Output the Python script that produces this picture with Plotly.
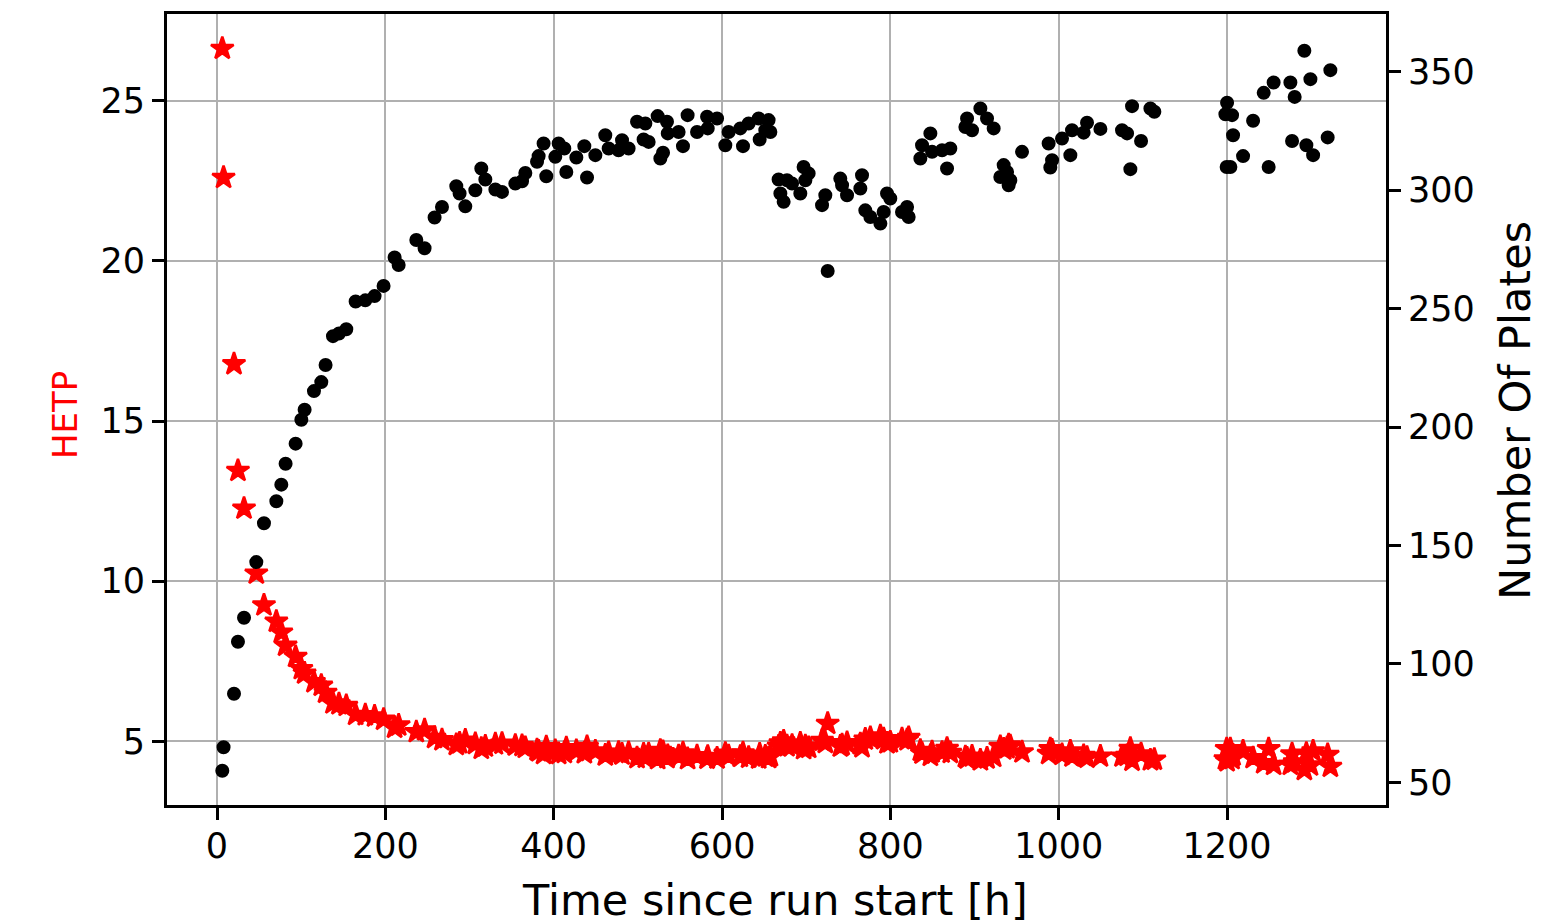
import plotly.graph_objects as go

# Time since run start [h]
time_h = [6.3, 7.8, 20.2, 24.9, 32.1, 46.7, 55.8, 70.5, 76.4, 81.5, 93.4, 100.2, 104.1, 115.2, 123.9,
          129.0, 137.8, 144.9, 153.6, 164.7, 176.2, 187.2, 197.9, 211.0, 215.8, 236.8, 246.6, 258.5,
          267.3, 284.3, 288.2, 295.0, 306.9, 314.0, 318.8, 330.7, 338.6, 354.4, 362.4, 366.3, 380.2,
          382.1, 388.0, 391.2, 401.9, 405.9, 412.6, 415.0, 426.9, 436.4, 439.6, 449.5, 461.3, 465.3,
          477.1, 481.2, 489.0, 499.0, 506.8, 508.9, 512.8, 523.5, 526.7, 529.9, 534.6, 535.5, 548.4,
          553.6, 559.1, 570.3, 582.2, 583.0, 594.1, 603.9, 607.8, 621.7, 624.9, 631.6, 643.5, 644.7,
          651.4, 655.3, 657.4, 667.2, 669.3, 673.2, 677.2, 683.2, 693.0, 696.9, 699.0, 702.9, 718.8,
          722.7, 725.5, 740.5, 742.6, 748.5, 764.3, 766.3, 770.2, 776.2, 788.1, 792.0, 796.0, 799.9,
          813.8, 819.8, 821.7, 835.6, 837.6, 847.5, 849.5, 861.4, 867.3, 871.2, 889.1, 891.1, 897.0,
          906.9, 914.8, 922.7, 930.6, 934.6, 938.6, 940.5, 942.5, 956.4, 988.0, 990.0, 992.1, 1003.9,
          1013.8, 1015.8, 1029.6, 1033.6, 1049.5, 1075.2, 1081.2, 1085.1, 1087.1, 1097.8, 1108.9,
          1113.6, 1198.0, 1200.0, 1199.5, 1203.9, 1205.9, 1207.1, 1219.0, 1230.9, 1243.5, 1249.4,
          1255.3, 1275.2, 1277.2, 1280.3, 1291.8, 1294.2, 1299.0, 1302.2, 1319.5, 1322.7]

# HETP (left axis)
hetp = [26.63, 22.60, 16.78, 13.45, 12.27, 10.24, 9.25, 8.74, 8.40, 7.99, 7.64, 7.26, 7.12, 6.85, 6.74,
        6.52, 6.19, 6.16, 6.11, 5.83, 5.82, 5.78, 5.68, 5.43, 5.50, 5.29, 5.35, 5.11,
        5.04, 4.89, 4.94, 5.03, 4.92, 4.77, 4.84, 4.91, 4.93, 4.87, 4.86, 4.80, 4.73,
        4.69, 4.61, 4.82, 4.70, 4.61, 4.64, 4.79, 4.70, 4.63, 4.83, 4.69, 4.56, 4.64,
        4.65, 4.59, 4.64, 4.48, 4.59, 4.49, 4.60, 4.45, 4.71, 4.67, 4.48, 4.55, 4.54,
        4.63, 4.45, 4.54, 4.46, 4.52, 4.47, 4.62, 4.54, 4.52, 4.63, 4.49, 4.47, 4.59,
        4.53, 4.48, 4.54, 4.84, 4.94, 5.00, 4.85, 4.87, 4.94, 4.76, 4.85, 4.80, 5.02,
        4.95, 5.55, 4.84, 4.88, 4.95, 4.91, 4.82, 5.06, 5.11, 5.16, 5.07, 4.94, 4.97,
        5.07, 5.04, 5.11, 4.71, 4.62, 4.55, 4.66, 4.65, 4.77, 4.64, 4.51, 4.47, 4.53,
        4.41, 4.47, 4.52, 4.83, 4.75, 4.79, 4.88, 4.85, 4.66, 4.61, 4.76, 4.72, 4.58,
        4.69, 4.53, 4.55, 4.49, 4.53, 4.53, 4.55, 4.77, 4.40, 4.60, 4.41,
        4.43, 4.44, 4.38, 4.76, 4.76, 4.45, 4.56, 4.69, 4.48, 4.32, 4.76,
        4.27, 4.27, 4.60, 4.35, 4.11, 4.62, 4.25, 4.69, 4.58, 4.21]

# Number Of Plates (right axis)
plates = [54.9, 64.8, 87.4, 109.4, 119.5, 143.0, 159.4, 168.7, 175.7, 184.5, 193.0, 203.1, 207.3, 215.2, 219.0,
          226.2, 238.4, 239.5, 241.3, 253.0, 253.5, 255.3, 259.6, 271.6, 268.4, 279.0, 275.5, 288.5,
          292.9, 301.7, 298.6, 293.2, 300.0, 309.2, 304.5, 300.3, 299.3, 302.8, 303.8, 307.3, 312.0,
          314.4, 319.7, 305.9, 314.1, 319.7, 317.6, 307.7, 313.8, 318.6, 305.4, 314.8, 323.2, 317.6,
          316.9, 321.1, 317.6, 328.9, 321.4, 328.2, 320.4, 331.3, 313.4, 315.8, 328.9, 324.0, 324.6,
          318.6, 331.7, 324.6, 331.0, 326.1, 330.3, 319.0, 324.6, 326.1, 318.6, 328.2, 330.3, 321.4,
          325.3, 329.6, 324.6, 304.5, 298.6, 295.1, 304.2, 302.8, 298.6, 309.8, 304.2, 307.1, 293.7,
          297.9, 265.9, 304.9, 302.1, 297.9, 300.7, 306.3, 291.5, 288.7, 285.9, 290.8, 298.6, 296.5,
          290.8, 292.9, 288.7, 313.4, 319.0, 324.0, 316.2, 316.9, 309.2, 317.6, 326.7, 330.3, 325.3,
          334.5, 330.3, 326.1, 305.6, 310.6, 307.7, 302.1, 304.2, 316.2, 319.7, 309.6, 312.7, 321.8,
          314.8, 325.3, 324.3, 328.5, 325.9, 325.3, 324.0, 308.9, 335.5, 320.8, 334.5,
          333.1, 332.1, 336.9, 309.8, 309.8, 331.7, 323.2, 314.4, 329.3, 341.1, 309.8,
          345.5, 345.5, 320.8, 339.4, 358.9, 319.0, 346.9, 314.8, 322.3, 350.7]

x_ticks = [0, 200, 400, 600, 800, 1000, 1200]
hetp_ticks = [5, 10, 15, 20, 25]
plate_ticks = [50, 100, 150, 200, 250, 300, 350]

FONT = "DejaVu Sans"

fig = go.Figure()
fig.add_trace(go.Scatter(
    x=time_h, y=hetp, mode="markers", name="HETP",
    marker=dict(symbol="star", size=17, color="#ff0000", line=dict(width=2.5, color="#ff0000")),
    yaxis="y", showlegend=False))
fig.add_trace(go.Scatter(
    x=time_h, y=plates, mode="markers", name="Number Of Plates",
    marker=dict(symbol="circle", size=12, color="#000000", line=dict(width=2, color="#000000")),
    yaxis="y2", showlegend=False))

axis_common = dict(
    showline=True, linecolor="black", linewidth=2.8,
    ticks="outside", ticklen=12, tickwidth=2.5, tickcolor="black",
    tickfont=dict(family=FONT, size=35, color="black"),
    zeroline=False,
)

fig.update_layout(
    width=1562, height=924,
    margin=dict(l=167, r=176, t=14, b=119, pad=0),
    paper_bgcolor="white", plot_bgcolor="white",
    font=dict(family=FONT, color="black"),
    xaxis=dict(range=[-59.4, 1388.8], tickvals=x_ticks, mirror=True, ticklabelstandoff=-4,
               showgrid=True, gridcolor="#b0b0b0", gridwidth=2, **axis_common),
    yaxis=dict(range=[3.01, 27.71], tickvals=hetp_ticks, mirror=False,
               showgrid=True, gridcolor="#b0b0b0", gridwidth=2, **axis_common),
    yaxis2=dict(range=[40.45, 374.4], tickvals=plate_ticks, overlaying="y", side="right",
                showgrid=False, **axis_common),
    annotations=[
        dict(text="Time since run start [h]", xref="paper", yref="paper",
             x=0.4988, y=-0.12, xanchor="center", yanchor="middle", showarrow=False,
             font=dict(family=FONT, size=43, color="black")),
        dict(text="HETP", xref="paper", yref="paper",
             x=-0.0837, y=0.493, xanchor="center", yanchor="middle", showarrow=False,
             textangle=-90, font=dict(family=FONT, size=34, color="#ff0000")),
        dict(text="Number Of Plates", xref="paper", yref="paper",
             x=1.1058, y=0.4994, xanchor="center", yanchor="middle", showarrow=False,
             textangle=-90, font=dict(family=FONT, size=43, color="black")),
    ],
)

fig.write_html("out.html")
